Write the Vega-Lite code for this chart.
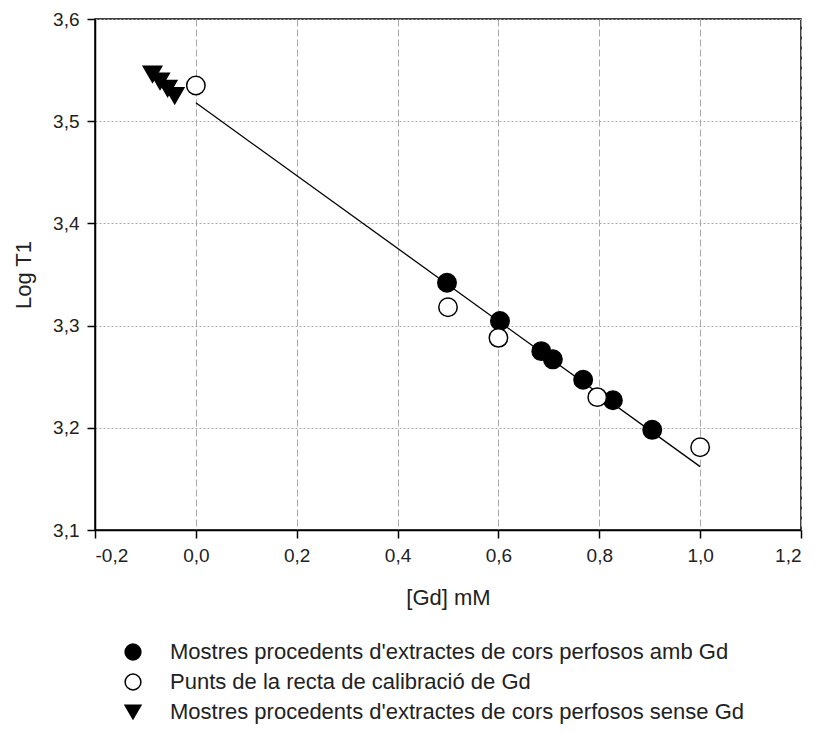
{
  "$schema": "https://vega.github.io/schema/vega-lite/v6.json",
  "autosize": {"type": "none"},
  "width": 706,
  "height": 511,
  "padding": {"left": 95, "top": 19, "right": 18, "bottom": 203},
  "background": "white",
  "config": {
    "font": "Liberation Sans",
    "view": {"stroke": "#000", "strokeWidth": 1.5},
    "axis": {
      "labelFont": "Liberation Sans",
      "titleFont": "Liberation Sans",
      "labelFontSize": 19,
      "titleFontSize": 22,
      "titleFontWeight": "normal",
      "labelColor": "#222",
      "titleColor": "#222",
      "domainColor": "#000",
      "domainWidth": 1.5,
      "tickColor": "#000",
      "tickWidth": 1.5,
      "tickSize": 8,
      "gridColor": "#aaa",
      "gridWidth": 1
    }
  },
  "datasets": {
    "points": [
      {"x": 0.498, "y": 3.342, "serie": "Mostres procedents d'extractes de cors perfosos amb Gd"},
      {"x": 0.603, "y": 3.3045, "serie": "Mostres procedents d'extractes de cors perfosos amb Gd"},
      {"x": 0.685, "y": 3.275, "serie": "Mostres procedents d'extractes de cors perfosos amb Gd"},
      {"x": 0.708, "y": 3.267, "serie": "Mostres procedents d'extractes de cors perfosos amb Gd"},
      {"x": 0.768, "y": 3.247, "serie": "Mostres procedents d'extractes de cors perfosos amb Gd"},
      {"x": 0.827, "y": 3.227, "serie": "Mostres procedents d'extractes de cors perfosos amb Gd"},
      {"x": 0.905, "y": 3.198, "serie": "Mostres procedents d'extractes de cors perfosos amb Gd"},
      {"x": 0.0, "y": 3.535, "serie": "Punts de la recta de calibració de Gd"},
      {"x": 0.5, "y": 3.318, "serie": "Punts de la recta de calibració de Gd"},
      {"x": 0.6, "y": 3.288, "serie": "Punts de la recta de calibració de Gd"},
      {"x": 0.796, "y": 3.23, "serie": "Punts de la recta de calibració de Gd"},
      {"x": 1.0, "y": 3.181, "serie": "Punts de la recta de calibració de Gd"},
      {"x": -0.086, "y": 3.546, "serie": "Mostres procedents d'extractes de cors perfosos sense Gd"},
      {"x": -0.071, "y": 3.539, "serie": "Mostres procedents d'extractes de cors perfosos sense Gd"},
      {"x": -0.056, "y": 3.532, "serie": "Mostres procedents d'extractes de cors perfosos sense Gd"},
      {"x": -0.042, "y": 3.525, "serie": "Mostres procedents d'extractes de cors perfosos sense Gd"}
    ],
    "fit": [
      {"x": 0.0, "y": 3.518},
      {"x": 1.0, "y": 3.162}
    ]
  },
  "layer": [
    {
      "data": {"name": "fit"},
      "mark": {"type": "line", "color": "#000", "strokeWidth": 1.3},
      "encoding": {
        "x": {
          "field": "x", "type": "quantitative",
          "scale": {"domain": [-0.2, 1.2], "nice": false, "zero": false},
          "axis": {
            "title": "[Gd] mM",
            "values": [-0.2, 0, 0.2, 0.4, 0.6, 0.8, 1.0, 1.2],
            "labelExpr": "replace(replace(format(datum.value, '.1f'), '.', ','), '\u2212', '-')",
            "labelPadding": 8,
            "titlePadding": 22,
            "gridDash": [7, 3]
          }
        },
        "y": {
          "field": "y", "type": "quantitative",
          "scale": {"domain": [3.1, 3.6], "nice": false, "zero": false},
          "axis": {
            "title": "Log T1",
            "values": [3.1, 3.2, 3.3, 3.4, 3.5, 3.6],
            "labelExpr": "replace(format(datum.value, '.1f'), '.', ',')",
            "labelPadding": 8,
            "titlePadding": 17,
            "gridDash": [2, 2]
          }
        }
      }
    },
    {
      "data": {"name": "points"},
      "mark": {"type": "point", "stroke": "#000", "strokeWidth": 1.5, "opacity": 1, "filled": false, "size": 340},
      "encoding": {
        "x": {"field": "x", "type": "quantitative"},
        "y": {"field": "y", "type": "quantitative"},
        "shape": {
          "field": "serie", "type": "nominal",
          "scale": {
            "domain": ["Mostres procedents d'extractes de cors perfosos amb Gd", "Punts de la recta de calibració de Gd", "Mostres procedents d'extractes de cors perfosos sense Gd"],
            "range": ["circle", "circle", "triangle-down"]
          },
          "legend": {
            "title": null,
            "orient": "none",
            "legendX": 27,
            "legendY": 622,
            "labelFontSize": 22,
            "labelFont": "Liberation Sans",
            "labelColor": "#222",
            "labelOffset": 26,
            "rowPadding": 8,
            "symbolSize": 250,
            "labelLimit": 800,
            "encode": {"symbols": {"update": {"stroke": {"value": "#000"}, "strokeWidth": {"value": 1.5}}}}
          }
        },
        "fill": {
          "field": "serie", "type": "nominal",
          "scale": {
            "domain": ["Mostres procedents d'extractes de cors perfosos amb Gd", "Punts de la recta de calibració de Gd", "Mostres procedents d'extractes de cors perfosos sense Gd"],
            "range": ["#000", "#fff", "#000"]
          },
          "legend": {
            "title": null,
            "orient": "none",
            "legendX": 27,
            "legendY": 622,
            "labelFontSize": 22,
            "labelFont": "Liberation Sans",
            "labelColor": "#222",
            "labelOffset": 26,
            "rowPadding": 8,
            "symbolSize": 250,
            "labelLimit": 800,
            "encode": {"symbols": {"update": {"stroke": {"value": "#000"}, "strokeWidth": {"value": 1.5}}}}
          }
        }
      }
    }
  ]
}
